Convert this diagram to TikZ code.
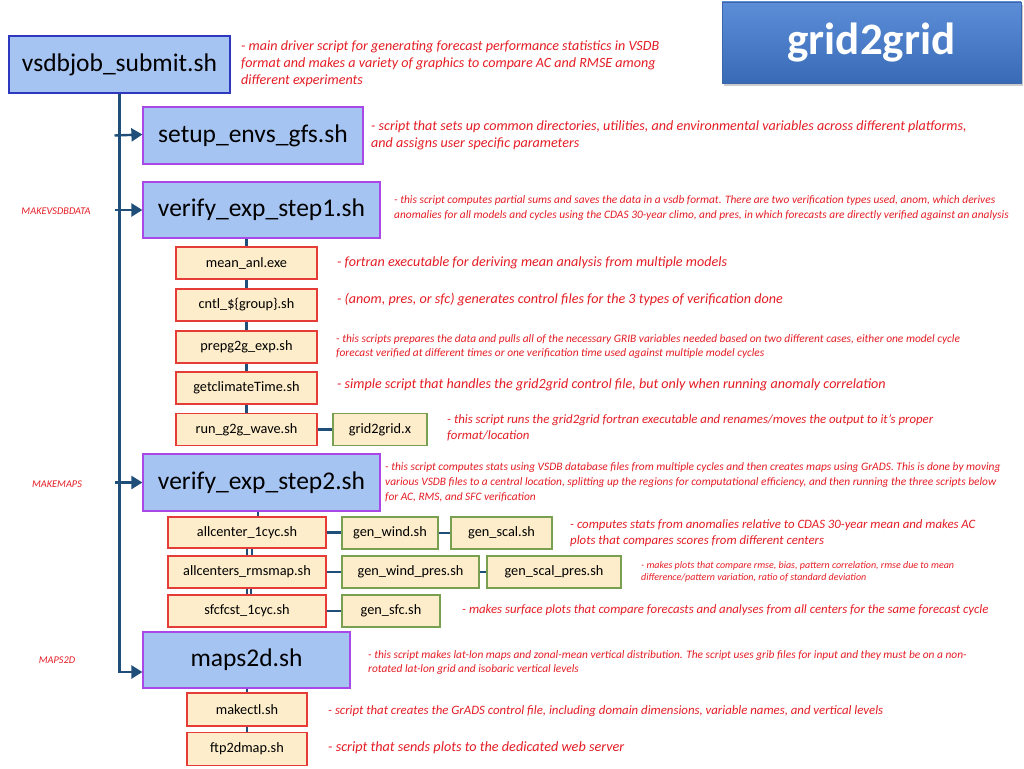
\documentclass[tikz,border=0pt]{standalone}
\usepackage{fontspec}
\setmainfont{Carlito}
\usetikzlibrary{arrows.meta,shadows}
\definecolor{bfill}{RGB}{166,196,242}
\definecolor{vsborder}{RGB}{46,56,190}
\definecolor{purp}{RGB}{168,72,230}
\definecolor{cfill}{RGB}{253,237,202}
\definecolor{rborder}{RGB}{230,60,55}
\definecolor{gborder}{RGB}{120,160,80}
\definecolor{conn}{RGB}{31,78,121}
\definecolor{dred}{RGB}{228,28,36}
\definecolor{ttop}{RGB}{92,142,216}
\definecolor{tbot}{RGB}{56,106,182}
\definecolor{tborder}{RGB}{60,100,170}
\tikzset{
  bigbox/.style={draw=purp, fill=bfill, line width=1.2pt, inner sep=0pt, font=\fontsize{25.5}{30}\selectfont},
  smallbox/.style={draw=rborder, fill=cfill, line width=1.2pt, inner sep=0pt, minimum height=32pt, font=\fontsize{14.3}{17}\selectfont},
  greenbox/.style={draw=gborder, fill=cfill, line width=1.2pt, inner sep=0pt, minimum height=32pt, font=\fontsize{14.3}{17}\selectfont},
  conline/.style={draw=conn, line width=2.4pt},
  thinline/.style={draw=conn, line width=1.3pt},
  arr/.style={draw=conn, line width=2.4pt, -{Triangle[length=11pt,width=13pt]}},
  desc/.style={text=dred, anchor=west, inner sep=0pt, align=left, font=\itshape},
  side/.style={text=dred, inner sep=0pt, font=\itshape\fontsize{10.3}{12}\selectfont}
}
\begin{document}
\begin{tikzpicture}[x=1pt,y=-1pt]
\useasboundingbox (0,0) rectangle (1024,768);
% title
\node[draw=tborder, top color=ttop, bottom color=tbot, drop shadow={opacity=0.4,shadow xshift=2pt,shadow yshift=-3pt},
  minimum width=299pt, minimum height=81pt, inner sep=0pt, text=white, font=\bfseries\fontsize{45}{50}\selectfont] (title) at (871.5,42.5) {grid2grid};
% big boxes
\node[bigbox, draw=vsborder, minimum width=221pt, minimum height=57pt] (vs) at (119.5,64.5) {vsdbjob\_submit.sh};
\node[bigbox, minimum width=220pt, minimum height=57pt] (setup) at (253,135.5) {setup\_envs\_gfs.sh};
\node[bigbox, minimum width=237pt, minimum height=56pt] (v1) at (261.5,210) {verify\_exp\_step1.sh};
\node[bigbox, minimum width=237pt, minimum height=57pt] (v2) at (261.5,482.5) {verify\_exp\_step2.sh};
\node[bigbox, minimum width=207pt, minimum height=56pt] (maps) at (246.5,660) {maps2d.sh};
% step1 children
\node[smallbox, minimum width=141pt] (mean) at (246.5,263) {mean\_anl.exe};
\node[smallbox, minimum width=141pt] (cntl) at (246.5,305) {cntl\_\$\{group\}.sh};
\node[smallbox, minimum width=141pt] (prep) at (246.5,347) {prepg2g\_exp.sh};
\node[smallbox, minimum width=141pt] (getc) at (246.5,388) {getclimateTime.sh};
\node[smallbox, minimum width=141pt] (run) at (246.5,429.5) {run\_g2g\_wave.sh};
\node[greenbox, minimum width=94pt] (g2gx) at (380,429.5) {grid2grid.x};
% step2 children
\node[smallbox, minimum width=158pt, minimum height=31pt] (ac1) at (247,532.5) {allcenter\_1cyc.sh};
\node[smallbox, minimum width=158pt] (rms) at (247,572) {allcenters\_rmsmap.sh};
\node[smallbox, minimum width=158pt] (sfc) at (247,611) {sfcfcst\_1cyc.sh};
\node[greenbox, minimum width=96pt] (gw) at (390,533) {gen\_wind.sh};
\node[greenbox, minimum width=101pt] (gs) at (501.5,533) {gen\_scal.sh};
\node[greenbox, minimum width=137pt] (gwp) at (410.5,572) {gen\_wind\_pres.sh};
\node[greenbox, minimum width=134pt] (gsp) at (554,572) {gen\_scal\_pres.sh};
\node[greenbox, minimum width=98pt] (gsfc) at (391,611) {gen\_sfc.sh};
% maps2d children
\node[smallbox, minimum width=120pt, minimum height=33pt] (mk) at (247,709.5) {makectl.sh};
\node[smallbox, minimum width=120pt, minimum height=33pt] (ftp) at (247,749) {ftp2dmap.sh};
% main trunk
\coordinate (mapsin) at ([yshift=-12pt]maps.west);
\draw[arr] (vs.south) -- (vs.south |- mapsin) -- (mapsin);
\draw[arr] (vs.south |- setup.west) ++(-5pt,0) -- ([yshift=1pt]setup.west);
\draw[arr] (vs.south |- v1.west) ++(-5pt,0) -- (v1.west);
\draw[arr] (vs.south |- v2.west) ++(-5pt,0) -- (v2.west);
% step1 chain
\draw[conline] (mean.north |- v1.south) -- (mean.north);
\draw[conline] (mean.south) -- (cntl.north);
\draw[conline] (cntl.south) -- (prep.north);
\draw[conline] (prep.south) -- (getc.north);
\draw[conline] (getc.south) -- (run.north);
\draw[conline] (run.east) -- (g2gx.west);
% step2 chain
\draw[conline] ([xshift=11pt]ac1.north |- v2.south) -- ([xshift=11pt]ac1.north);
\draw[thinline] ([xshift=0pt]ac1.south) -- ([xshift=0pt]rms.north);
\draw[thinline] ([xshift=5pt]ac1.south) -- ([xshift=5pt]rms.north);
\draw[thinline] ([xshift=0pt]rms.south) -- ([xshift=0pt]sfc.north);
\draw[thinline] ([xshift=4pt]rms.south) -- ([xshift=4pt]sfc.north);
\draw[conline] (ac1.east) -- (ac1.east -| gw.west);
\draw[conline] (gw.east) -- (gs.west);
\draw[conline] (rms.east) -- (gwp.west);
\draw[conline] (gwp.east) -- (gsp.west);
\draw[conline] (sfc.east) -- (gsfc.west);
% maps2d chain
\draw[conline] (mk.north |- maps.south) -- (mk.north);
\draw[conline] (mk.south) -- (ftp.north);
% side labels
\node[side] (l1) at (56,211) {MAKEVSDBDATA};
\node[side] (l2) at (57,484) {MAKEMAPS};
\node[side] (l3) at (57,660) {MAPS2D};
% descriptions
\node[desc, font=\itshape\fontsize{14.1}{17}\selectfont] (dvs) at (241,64) {- main driver script for generating forecast performance statistics in VSDB\\format and makes a variety of graphics to compare AC and RMSE among\\different experiments};
\node[desc, font=\itshape\fontsize{14.1}{17}\selectfont] (dsetup) at (371,135.5) {- script that sets up common directories, utilities, and environmental variables across different platforms,\\and assigns user specific parameters};
\node[desc, font=\itshape\fontsize{11.4}{15}\selectfont] (dv1) at (394,208.5) {- this script computes partial sums and saves the data in a vsdb format. There are two verification types used, anom, which derives\\anomalies for all models and cycles using the CDAS 30-year climo, and pres, in which forecasts are directly verified against an analysis};
\node[desc, font=\itshape\fontsize{14.1}{17}\selectfont] (dmean) at (337,263) {- fortran executable for deriving mean analysis from multiple models};
\node[desc, font=\itshape\fontsize{14.1}{17}\selectfont] (dcntl) at (337,300) {- (anom, pres, or sfc) generates control files for the 3 types of verification done};
\node[desc, font=\itshape\fontsize{11.4}{14}\selectfont] (dprep) at (336,347) {- this scripts prepares the data and pulls all of the necessary GRIB variables needed based on two different cases, either one model cycle\\forecast verified at different times or one verification time used against multiple model cycles};
\node[desc, font=\itshape\fontsize{14.1}{17}\selectfont] (dgetc) at (337,385) {- simple script that handles the grid2grid control file, but only when running anomaly correlation};
\node[desc, font=\itshape\fontsize{12.8}{16}\selectfont] (dg2g) at (447,428) {- this script runs the grid2grid fortran executable and renames/moves the output to it's proper\\format/location};
\node[desc, font=\itshape\fontsize{11.4}{15}\selectfont] (dv2) at (385,482) {- this script computes stats using VSDB database files from multiple cycles and then creates maps using GrADS. This is done by moving\\various VSDB files to a central location, splitting up the regions for computational efficiency, and then running the three scripts below\\for AC, RMS, and SFC verification};
\node[desc, font=\itshape\fontsize{12.8}{16}\selectfont] (dac) at (570,533) {- computes stats from anomalies relative to CDAS 30-year mean and makes AC\\plots that compares scores from different centers};
\node[desc, font=\itshape\fontsize{10}{12}\selectfont] (drms) at (641,572) {- makes plots that compare rmse, bias, pattern correlation, rmse due to mean\\difference/pattern variation, ratio of standard deviation};
\node[desc, font=\itshape\fontsize{12.8}{15}\selectfont] (dsfc) at (462,610) {- makes surface plots that compare forecasts and analyses from all centers for the same forecast cycle};
\node[desc, font=\itshape\fontsize{11.4}{14}\selectfont] (dmaps) at (368,663) {- this script makes lat-lon maps and zonal-mean vertical distribution. The script uses grib files for input and they must be on a non-\\rotated lat-lon grid and isobaric vertical levels};
\node[desc, font=\itshape\fontsize{12.8}{15}\selectfont] (dmk) at (328,711) {- script that creates the GrADS control file, including domain dimensions, variable names, and vertical levels};
\node[desc, font=\itshape\fontsize{14.2}{17}\selectfont] (dftp) at (328,748) {- script that sends plots to the dedicated web server};
\end{tikzpicture}
\end{document}
